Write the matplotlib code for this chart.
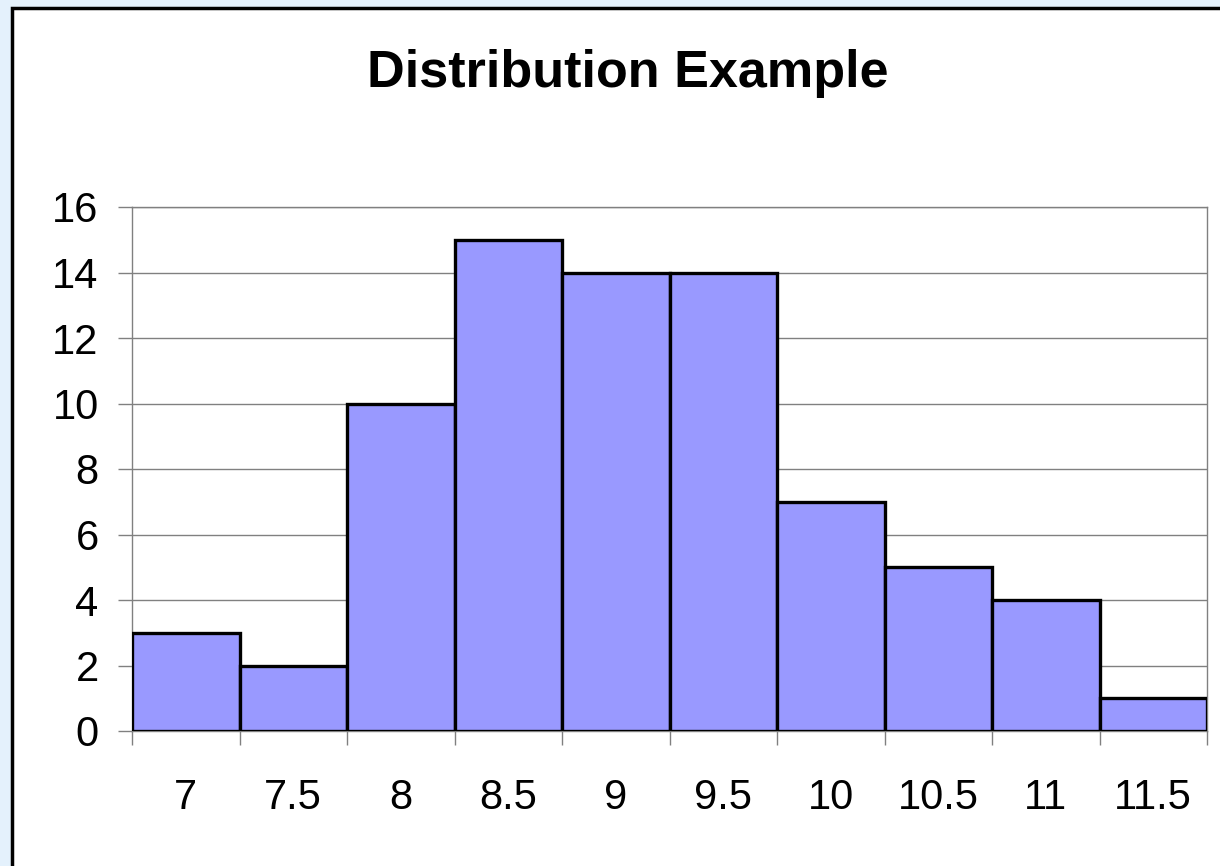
import matplotlib.pyplot as plt
from matplotlib.patches import Rectangle

plt.rcParams['font.family'] = ['Liberation Sans', 'DejaVu Sans']

# histogram bins and counts
bin_labels = ["7", "7.5", "8", "8.5", "9", "9.5", "10", "10.5", "11", "11.5"]
counts = [3, 2, 10, 15, 14, 14, 7, 5, 4, 1]
y_ticks = [0, 2, 4, 6, 8, 10, 12, 14, 16]

fig = plt.figure(figsize=(12.2, 8.66), dpi=100)
fig.patch.set_facecolor('#e4f1fc')

# white chart frame with black border, behind the axes
frame = Rectangle((12 / 1220, -0.05), 1.1, (866 - 8) / 866 + 0.05,
                  transform=fig.transFigure, facecolor='white',
                  edgecolor='black', linewidth=2.5, zorder=-10)
fig.patches.append(frame)

ax = fig.add_axes([132 / 1220, 135 / 866, 1075 / 1220, 524 / 866])
ax.set_facecolor('white')

pos = list(range(len(counts)))
ax.bar(pos, counts, width=1.0, color='#9999ff', edgecolor='black',
       linewidth=2.4, zorder=3)

ax.set_xlim(-0.5, len(counts) - 0.5)
ax.set_ylim(0, 16)
ax.set_yticks(y_ticks)
ax.yaxis.grid(True, color='#808080', linewidth=1, zorder=0)
ax.set_axisbelow(True)

ax.set_xticks(pos)
ax.set_xticklabels(bin_labels)
ax.set_xticks([p - 0.5 for p in pos] + [len(counts) - 0.5], minor=True)
ax.tick_params(axis='x', which='major', length=0, pad=34, labelsize=30)
ax.tick_params(axis='x', which='minor', length=10, width=1, color='#808080')
ax.tick_params(axis='y', length=10, width=1, color='#808080', pad=14,
               labelsize=30)

for side in ['top', 'right', 'left', 'bottom']:
    ax.spines[side].set_color('#808080')
    ax.spines[side].set_linewidth(1)

fig.text(628 / 1220, 1 - 74 / 866, 'Distribution Example', ha='center',
         va='center', fontsize=37.5, fontweight='bold')

fig.savefig('out.png', dpi=100)
